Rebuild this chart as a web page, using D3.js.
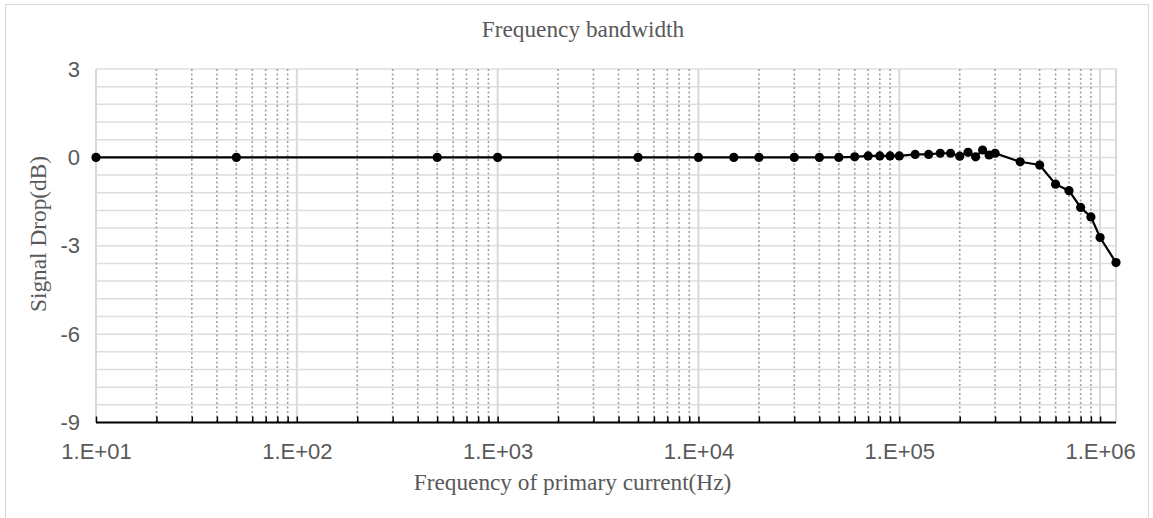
<!DOCTYPE html>
<html>
<head>
<meta charset="utf-8">
<script src="https://cdn.jsdelivr.net/npm/d3@7"></script>
<style>
  body { margin: 0; background: #fff; }
  svg text { fill: #595959; }
</style>
</head>
<body>
<script>
// data
const freqHz = [10, 50, 500, 1000, 5000, 10000, 15000, 20000, 30000, 40000, 50000,
  60000, 70000, 80000, 90000, 100000, 120000, 140000, 160000, 180000, 200000,
  220000, 240000, 260000, 280000, 300000, 400000, 500000, 600000, 700000,
  800000, 900000, 1000000, 1200000];
const dropDb = [0, 0, 0, 0, 0, 0, 0, 0, 0, 0, 0,
  0.02, 0.05, 0.05, 0.05, 0.05, 0.1, 0.1, 0.14, 0.14, 0.04,
  0.17, 0.02, 0.25, 0.08, 0.14, -0.15, -0.26, -0.91, -1.13,
  -1.70, -2.02, -2.72, -3.57];
const yTicks = [3, 0, -3, -6, -9];
const yMinorStep = 0.6;

const W = 1153, H = 518;
const pLeft = 96, pRight = 1116, pTop = 69, pBottom = 422.5;
const serif = "Liberation Serif, Times New Roman, serif";
const sans = "Liberation Sans, Arial, sans-serif";

const svg = d3.select("body").append("svg")
  .attr("width", W)
  .attr("height", H);

// chart frame
svg.append("rect")
  .attr("x", 5.5).attr("y", 4.5)
  .attr("width", 1143).attr("height", 530)
  .attr("fill", "none")
  .attr("stroke", "#d9d9d9");

const x = d3.scaleLog().domain([10, 1.2e6]).range([pLeft, pRight]);
const y = d3.scaleLinear().domain([-9, 3]).range([pBottom, pTop]);

const allX = x.ticks();
const isMajor = d => Math.abs(Math.log10(d) - Math.round(Math.log10(d))) < 1e-9;
const majorX = allX.filter(isMajor);
const minorX = allX.filter(d => !isMajor(d));

// horizontal grid
const yGrid = d3.range(-9, 3 + 1e-6, yMinorStep);
svg.append("g")
  .selectAll("line")
  .data(yGrid)
  .enter()
  .append("line")
  .attr("x1", pLeft).attr("x2", pRight)
  .attr("y1", d => y(d)).attr("y2", d => y(d))
  .attr("stroke", "#dedede")
  .attr("stroke-width", 1.5);

// vertical grid
svg.append("g")
  .selectAll("line")
  .data(minorX)
  .enter()
  .append("line")
  .attr("x1", d => x(d)).attr("x2", d => x(d))
  .attr("y1", pTop).attr("y2", pBottom)
  .attr("stroke", "#a0a0a0")
  .attr("stroke-width", 1.6)
  .attr("stroke-dasharray", "2,2.5");

svg.append("g")
  .selectAll("line")
  .data(majorX.concat([1.2e6]))
  .enter()
  .append("line")
  .attr("x1", d => x(d)).attr("x2", d => x(d))
  .attr("y1", pTop).attr("y2", pBottom)
  .attr("stroke", "#d9d9d9")
  .attr("stroke-width", 2);

// x axis: inside ticks
const xAxis = d3.axisBottom(x)
  .tickValues(allX)
  .tickSize(-6)
  .tickFormat("");

const gx = svg.append("g")
  .attr("transform", `translate(0, ${pBottom})`)
  .call(xAxis);
gx.select(".domain").attr("stroke", "#000").attr("stroke-width", 2)
  .attr("d", `M${pLeft},0H${pRight}`);
gx.selectAll(".tick line").attr("stroke", "#000").attr("stroke-width", 1.5);

const xLabels = svg.append("g")
  .attr("transform", `translate(0, ${pBottom})`)
  .call(d3.axisBottom(x)
    .tickValues(majorX)
    .tickSize(0)
    .tickPadding(21)
    .tickFormat(d => "1.E+" + String(Math.round(Math.log10(d))).padStart(2, "0")));
xLabels.select(".domain").remove();
xLabels.selectAll("text")
  .attr("font-family", sans)
  .attr("font-size", 22)
  .style("fill", "#595959");

// y axis labels
const gy = svg.append("g")
  .attr("transform", `translate(${pLeft}, 0)`)
  .call(d3.axisLeft(y)
    .tickValues(yTicks)
    .tickSize(0)
    .tickPadding(16)
    .tickFormat(d => String(d)));
gy.select(".domain").remove();
gy.selectAll("text")
  .attr("font-family", sans)
  .attr("font-size", 22)
  .style("fill", "#595959");

// line + markers
const pts = freqHz.map((f, i) => [f, dropDb[i]]);
svg.append("path")
  .datum(pts)
  .attr("fill", "none")
  .attr("stroke", "#000")
  .attr("stroke-width", 2.2)
  .attr("d", d3.line().x(d => x(d[0])).y(d => y(d[1])));

svg.append("g")
  .selectAll("circle")
  .data(pts)
  .enter()
  .append("circle")
  .attr("cx", d => x(d[0]))
  .attr("cy", d => y(d[1]))
  .attr("r", 4.6)
  .attr("fill", "#000");

// titles
svg.append("text")
  .attr("x", 583)
  .attr("y", 37)
  .attr("text-anchor", "middle")
  .attr("font-family", serif)
  .attr("font-size", 23.3)
  .text("Frequency bandwidth");

svg.append("text")
  .attr("x", 572.5)
  .attr("y", 490)
  .attr("text-anchor", "middle")
  .attr("font-family", serif)
  .attr("font-size", 23.3)
  .text("Frequency of primary current(Hz)");

svg.append("text")
  .attr("transform", "translate(46, 234) rotate(-90)")
  .attr("text-anchor", "middle")
  .attr("font-family", serif)
  .attr("font-size", 23.3)
  .text("Signal Drop(dB)");
</script>
</body>
</html>
